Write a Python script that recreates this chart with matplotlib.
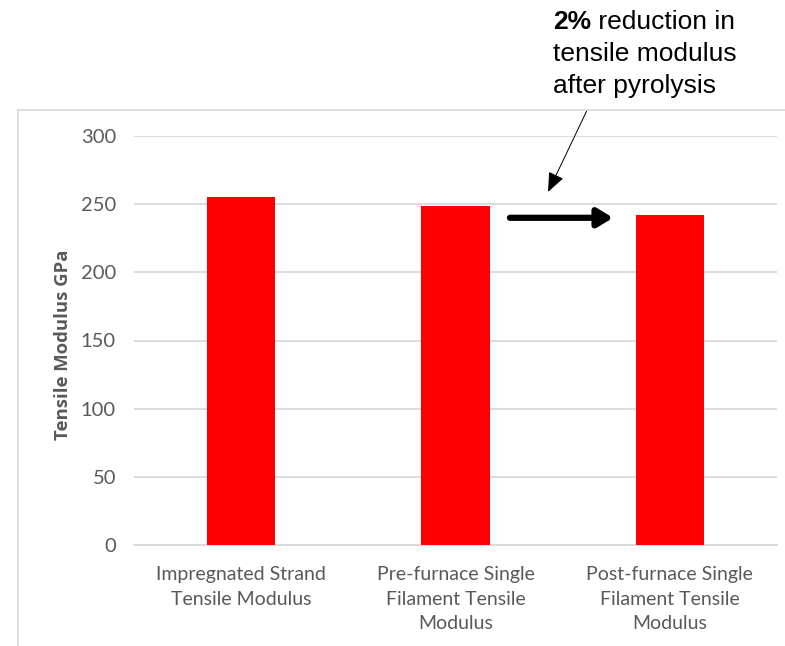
import matplotlib.pyplot as plt
from matplotlib.lines import Line2D

# data
categories = ["Impregnated Strand\nTensile Modulus",
              "Pre-furnace Single\nFilament Tensile\nModulus",
              "Post-furnace Single\nFilament Tensile\nModulus"]
modulus = [255, 249, 242]
yticks = [0, 50, 100, 150, 200, 250, 300]

grey = "#595959"
grid = "#d9d9d9"

fig = plt.figure(figsize=(7.85, 6.46), dpi=100)
ax = fig.add_axes([134 / 785, 1 - 545 / 646, 643 / 785, 409 / 646])

x = range(len(categories))
ax.bar(x, modulus, width=0.32, color="#ff0000", zorder=3)

ax.set_xlim(-0.5, 2.5)
ax.set_ylim(0, 300)
ax.set_yticks(yticks)
ax.set_xticks(list(x))
ax.set_xticklabels(categories, fontsize=14, color=grey, family="Lato", linespacing=1.55)
for lab in ax.get_yticklabels():
    lab.set_fontsize(14.5)
    lab.set_color(grey)
    lab.set_family("Lato")
ax.tick_params(axis="both", length=0)
ax.tick_params(axis="y", pad=13)
ax.tick_params(axis="x", pad=15)
ax.grid(axis="y", color=grid, linewidth=1.3, zorder=0)
for s in ["top", "right", "left"]:
    ax.spines[s].set_visible(False)
ax.spines["bottom"].set_color(grid)
ax.spines["bottom"].set_linewidth(1.3)

ax.set_ylabel("Tensile Modulus GPa", fontsize=13.3, color=grey, fontweight="bold",
              family=["Open Sans", "Lato"])
ax.yaxis.set_label_coords((72 - 134) / 643, 0.5 + (545 - 345 - 204.5) / 409)

# chart area border (top and left visible)
fig.add_artist(Line2D([18 / 785, 1], [1 - 110 / 646, 1 - 110 / 646], color=grid, lw=1.3))
fig.add_artist(Line2D([18 / 785, 18 / 785], [0, 1 - 110 / 646], color=grid, lw=1.3))

# thick arrow between bars 2 and 3
ax.annotate("", xy=(1.735, 240), xytext=(1.254, 240),
            arrowprops=dict(arrowstyle="-|>,head_length=0.9,head_width=0.55",
                            color="black", lw=4.5, shrinkA=0, shrinkB=0))

# thin pointer arrow
ax.annotate("", xy=(1.432, 259), xytext=(1.614, 319), annotation_clip=False,
            arrowprops=dict(arrowstyle="-|>,head_length=1.2,head_width=0.5",
                            color="black", lw=0.7, shrinkA=0, shrinkB=0))

# note text
fs = 19
x0 = 553 / 785
t_bold = fig.text(x0, 1 - 22 / 646, "2%", fontsize=fs, fontweight="bold",
                  family="Liberation Sans", va="center", ha="left")
fig.canvas.draw()
bb = t_bold.get_window_extent()
x1 = bb.x1 / fig.bbox.width
fig.text(x1, 1 - 22 / 646, " reduction in", fontsize=fs,
         family="Liberation Sans", va="center", ha="left")
fig.text(x0, 1 - 54 / 646, "tensile modulus", fontsize=fs,
         family="Liberation Sans", va="center", ha="left")
fig.text(x0, 1 - 86 / 646, "after pyrolysis", fontsize=fs,
         family="Liberation Sans", va="center", ha="left")

fig.savefig("out.png", dpi=100)
